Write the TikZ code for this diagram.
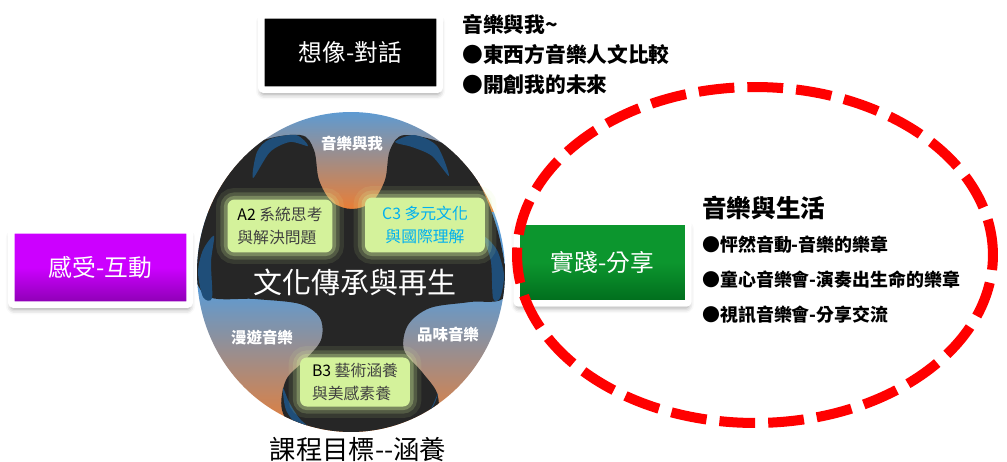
\documentclass[tikz,border=0pt]{standalone}
\usepackage{fontspec}
\setmainfont{Noto Sans CJK TC}
\usetikzlibrary{shadows.blur}

\definecolor{lobeblue}{HTML}{5B9BD5}
\definecolor{lobeorange}{HTML}{ED7D31}
\definecolor{corefill}{HTML}{262626}
\definecolor{tabblue}{HTML}{1F4E79}
\definecolor{glowgreen}{HTML}{D4F29B}
\definecolor{goalgray}{HTML}{404040}
\definecolor{goalcyan}{HTML}{00B0F0}
\definecolor{violetface}{HTML}{CC00FF}
\definecolor{violetedge}{HTML}{8A00B0}
\definecolor{greenface}{HTML}{0C962E}
\definecolor{greenedge}{HTML}{006B1C}

\tikzset{
  framebox/.style={draw=white, line width=3.7pt, rounded corners=1.5pt, text=white,
    font=\fontsize{13.5}{16}\selectfont, inner sep=0pt,
    blur shadow={shadow xshift=0pt, shadow yshift=-2.5pt, shadow blur radius=3pt}},
  glowbox/.style={fill=glowgreen, rounded corners=4pt, inner sep=3pt,
    font=\fontsize{9}{13.6}\selectfont,
    preaction={draw=glowgreen, line width=13pt, opacity=0.1},
    preaction={draw=glowgreen, line width=8pt, opacity=0.18},
    preaction={draw=glowgreen, line width=4pt, opacity=0.3}},
  lobelabel/.style={text=white, font=\bfseries\fontsize{8.8}{10}\selectfont},
  notetext/.style={anchor=west, inner sep=0pt, font=\bfseries\fontsize{#1}{#1}\selectfont}
}

\begin{document}
\begin{tikzpicture}[x=0.02cm, y=-0.02cm]
  \useasboundingbox (0,0) rectangle (1007,462);

  % the three boxes
  \node[framebox, fill=black, minimum width=3.57cm, minimum height=1.49cm] (imagine) at (350.5,52.5) {想像-對話};
  \node[framebox, top color=violetface, bottom color=violetedge, middle color=violetface, minimum width=3.57cm, minimum height=1.49cm] (feel) at (100.5,267.5) {感受-互動};
  \node[framebox, top color=greenface, bottom color=greenedge, middle color=greenface, minimum width=3.44cm, minimum height=1.64cm] (practice) at (602.5,262.5) {實踐-分享};

  % circle of the three lobes
  \begin{scope}
    \clip (351,272) ellipse [x radius=3.08cm, y radius=3.2cm];
    \shade[top color=lobeblue, bottom color=lobeorange] (190,110) rectangle (515,212);
    \fill[lobeblue] (190,212) rectangle (515,288);
    \shade[top color=lobeblue, bottom color=lobeorange] (190,288) rectangle (515,436);
    \fill[corefill] plot[smooth cycle, tension=0.55] coordinates {
      (255,144) (300,135) (314,150) (319,180) (332,202) (352,209) (372,202) (385,180)
      (390,150) (405,135) (450,147) (480,185) (500,240) (505,296) (470,302) (430,308)
      (408,325) (404,350) (422,372) (437,393) (436,415) (410,430) (352,436) (300,432)
      (282,410) (286,380) (305,360) (321,340) (320,318) (300,304) (255,299) (205,295)
      (193,250) (215,185)};
    % curled edges
    \fill[tabblue] plot[smooth cycle] coordinates {(253,178) (257,152) (270,139) (296,135) (308,146) (290,142) (270,152)};
    \fill[tabblue] plot[smooth cycle] coordinates {(395,142) (414,135) (437,146) (449,176) (432,156) (412,147)};
    \fill[tabblue] plot[smooth cycle] coordinates {(214,236) (203,250) (198,272) (203,297) (212,298) (211,262)};
    \fill[tabblue] plot[smooth cycle] coordinates {(484,237) (497,250) (504,275) (500,298) (493,298) (491,262)};
    \fill[tabblue] plot[smooth cycle] coordinates {(283,388) (286,410) (300,428) (318,435) (300,419) (289,402)};
    \fill[tabblue] plot[smooth cycle] coordinates {(390,430) (414,424) (432,408) (438,393) (428,413) (408,424)};
  \end{scope}

  \node[lobelabel] (me) at (352,144) {音樂與我};
  \node[lobelabel] (roam) at (262,338) {漫遊音樂};
  \node[lobelabel] (taste) at (448,335) {品味音樂};

  % core goals
  \node[glowbox, text=goalgray, align=left, minimum width=2.1cm, minimum height=1.06cm] (goalA) at (280,226)
    {{\color{black}A2} 系統思考\\與解決問題};
  \node[glowbox, text=goalcyan, align=center, minimum width=2.4cm, minimum height=1.1cm] (goalC) at (425,225)
    {C3 多元文化\\與國際理解};
  \node[glowbox, text=goalgray, align=left, minimum width=2.2cm, minimum height=0.98cm] (goalB) at (355,382)
    {{\color{black}B3} 藝術涵養\\與美感素養};

  \node[text=white, font=\fontsize{16.5}{18}\selectfont] (culture) at (355,282) {文化傳承與再生};
  \node[font=\fontsize{15}{17}\selectfont] (title) at (358,449) {課程目標-{}-涵養};

  % notes
  \node[notetext=11.8] (noteA) at (462,25) {音樂與我\textasciitilde};
  \node[notetext=11.8] (noteB) at (462,55) {●東西方音樂人文比較};
  \node[notetext=11.8] (noteC) at (462,85) {●開創我的未來};

  \node[notetext=14] (life) at (702,208) {音樂與生活};
  \node[notetext=10.2] (lifeA) at (702,245) {●怦然音動-音樂的樂章};
  \node[notetext=10.2] (lifeB) at (702,280) {●童心音樂會-演奏出生命的樂章};
  \node[notetext=10.2] (lifeC) at (702,315) {●視訊音樂會-分享交流};

  \draw[red, line width=5.7pt, dash pattern=on 20.4pt off 7.4pt] (755,255) ellipse [x radius=4.76cm, y radius=3.36cm];
\end{tikzpicture}
\end{document}
